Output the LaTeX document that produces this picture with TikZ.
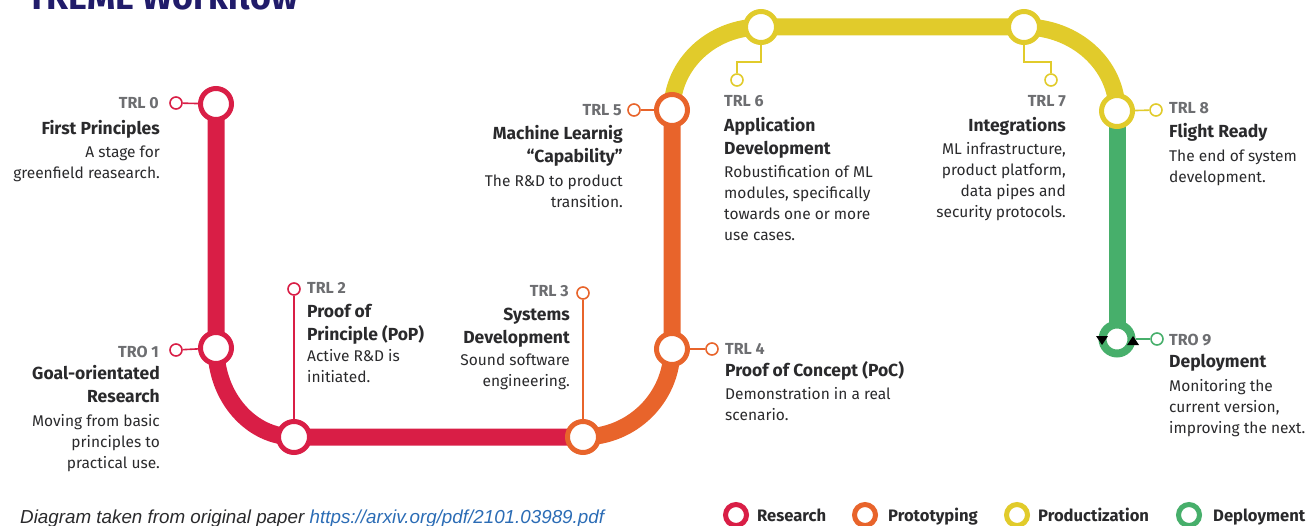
\documentclass[tikz,border=0pt]{standalone}
\usepackage{fontspec}
\setmainfont{Fira Sans}
\newfontfamily\capfont{Liberation Sans}
\usetikzlibrary{calc,backgrounds}
\definecolor{cRed}{HTML}{D91E46}
\definecolor{cOrange}{HTML}{E8642B}
\definecolor{cYellow}{HTML}{E1CB2B}
\definecolor{cGreen}{HTML}{47AF6B}
\definecolor{cGray}{HTML}{6D6E71}
\definecolor{cText}{HTML}{2A2A2C}
\definecolor{cNavy}{HTML}{211C6A}
\definecolor{cLink}{HTML}{2B6CB5}
\begin{document}
\begin{tikzpicture}[x=1pt,y=-1pt,
 track/.style={line width=17pt,draw=#1},
 station/.style={circle,fill=white,draw=#1,line width=5pt,minimum size=31pt,inner sep=0pt},
 pin/.style={circle,fill=white,draw=#1,line width=1.6pt,minimum size=12pt,inner sep=0pt},
 leader/.style={line width=1.6pt,draw=#1},
 tag/.style={font=\fontsize{16}{18}\selectfont\bfseries,text=cGray,inner sep=0pt},
 head/.style={font=\fontsize{17.5}{23}\selectfont\bfseries,text=cText,inner sep=0pt},
 body/.style={font=\fontsize{15.5}{21}\selectfont,text=cText,inner sep=0pt},
 legc/.style={circle,fill=white,draw=#1,line width=5pt,minimum size=21pt,inner sep=0pt},
 legt/.style={font=\fontsize{16.6}{18}\selectfont\bfseries,text=cText,inner sep=0pt,anchor=base west},
]
\useasboundingbox (0,0) rectangle (1316,526);

% title (cut by the page top)
\node[anchor=base west,font=\fontsize{35.8}{38}\selectfont\bfseries,text=cNavy,inner sep=0pt] (title) at (27,10) {TREME Workflow};

% stations
\node[station=cRed] (s0) at (216,104) {};
\node[station=cRed] (s1) at (216,348) {};
\node[station=cRed] (s2) at (294,437) {};
\node[station=cOrange] (s3) at (583,437) {};
\node[station=cOrange] (s4) at (672,349) {};
\node[station=cOrange] (s5) at (672,110) {};
\node[station=cYellow] (s6) at (761,27) {};
\node[station=cYellow] (s7) at (1024,27) {};
\node[station=cYellow] (s8) at (1117,111) {};
\node[circle,fill=white,draw=cGreen,line width=8pt,minimum size=29pt,inner sep=0pt] (s9) at (1117,339) {};

% pins
\node[pin=cRed] (p0) at (176,103) {};
\node[pin=cRed] (p1) at (176,350) {};
\node[pin=cRed] (p2) at (294,289) {};
\node[pin=cOrange] (p3) at (583,293) {};
\node[pin=cOrange] (p4) at (712,349) {};
\node[pin=cOrange] (p5) at (634,110) {};
\node[pin=cYellow] (p6) at (737,80) {};
\node[pin=cYellow] (p7) at (1051,80) {};
\node[pin=cYellow] (p8) at (1156,110) {};
\node[pin=cGreen] (p9) at (1157,339) {};

\begin{scope}[on background layer]
 \draw[track=cRed] (s0.center) -- (s1.center)
   .. controls ($(s1.center)!0.552!(s1.center|-s2.center)$) and ($(s2.center)!0.552!(s1.center|-s2.center)$) .. (s2.center)
   -- (s3.center);
 \draw[track=cOrange] (s3.center)
   .. controls ($(s3.center)!0.552!(s4.center|-s3.center)$) and ($(s4.center)!0.552!(s4.center|-s3.center)$) .. (s4.center)
   -- (s5.center);
 \draw[track=cYellow] (s5.center)
   .. controls ($(s5.center)!0.552!(s5.center|-s6.center)$) and ($(s6.center)!0.552!(s5.center|-s6.center)$) .. (s6.center)
   -- (s7.center)
   .. controls ($(s7.center)!0.552!(s8.center|-s7.center)$) and ($(s8.center)!0.552!(s8.center|-s7.center)$) .. (s8.center);
 \draw[track=cGreen] (s8.center) -- (s9.center);
 \draw[leader=cRed] (p0) -- (s0);
 \draw[leader=cRed] (p1) -- (s1);
 \draw[leader=cRed] (p2) -- (s2);
 \draw[leader=cOrange] (p3) -- (s3);
 \draw[leader=cOrange] (p4) -- (s4);
 \draw[leader=cOrange] (p5) -- (s5);
 \draw[leader=cYellow] (s6.center) |- ($(p6.center)+(0,-18)$) -- (p6);
 \draw[leader=cYellow] (s7.center) |- ($(p7.center)+(0,-18)$) -- (p7);
 \draw[leader=cYellow] (p8) -- (s8);
 \draw[leader=cGreen] (p9) -- (s9);
\end{scope}

% loop arrows
\fill[black] (1096,336) -- (1108,336) -- (1102,345) -- cycle;
\fill[black] (1127,345) -- (1139,345) -- (1133,336) -- cycle;

% TRL 0
\node[tag,anchor=base east] (t0) at (159,109) {TRL 0};
\node[head,anchor=north east,align=right] (h0) at (160,117.9) {\strut First Principles};
\node[body,anchor=north east,align=right] (b0) at (160,142.3) {\strut A stage for\\greenfield reasearch.};
% TRO 1
\node[tag,anchor=base east] (t1) at (159,357) {TRO 1};
\node[head,anchor=north east,align=right] (h1) at (160,362.9) {\strut Goal-orientated\\Research};
\node[body,anchor=north east,align=right] (b1) at (160,411.3) {\strut Moving from basic\\principles to\\practical use.};
% TRL 2
\node[tag,anchor=base west] (t2) at (307,294) {TRL 2};
\node[head,anchor=north west,align=left] (h2) at (307,300.9) {\strut Proof of\\Principle (PoP)};
\node[body,anchor=north west,align=left] (b2) at (307,346.3) {\strut Active R\&D is\\initiated.};
% TRL 3
\node[tag,anchor=base east] (t3) at (569,297) {TRL 3};
\node[head,anchor=north east,align=right] (h3) at (570,303.9) {\strut Systems\\Development};
\node[body,anchor=north east,align=right] (b3) at (570,350.3) {\strut Sound software\\engineering.};
% TRL 4
\node[tag,anchor=base west] (t4) at (725,354) {TRL 4};
\node[head,anchor=north west,align=left] (h4) at (725,359.9) {\strut Proof of Concept (PoC)};
\node[body,anchor=north west,align=left] (b4) at (725,384.3) {\strut Demonstration in a real\\scenario.};
% TRL 5
\node[tag,anchor=base east] (t5) at (622,116) {TRL 5};
\node[head,anchor=north east,align=right] (h5) at (623,122.9) {\strut Machine Learnig\\“Capability”};
\node[body,anchor=north east,align=right] (b5) at (623,171.3) {\strut The R\&D to product\\transition.};
% TRL 6
\node[tag,anchor=base west] (t6) at (724,107) {TRL 6};
\node[head,anchor=north west,align=left] (h6) at (724,114.9) {\strut Application\\Development};
\node[body,anchor=north west,align=left] (b6) at (724,162.3) {\strut Robustification of ML\\modules, specifically\\towards one or more\\use cases.};
% TRL 7
\node[tag,anchor=base east] (t7) at (1066,107) {TRL 7};
\node[head,anchor=north east,align=right] (h7) at (1066,114.9) {\strut Integrations};
\node[body,anchor=north east,align=right] (b7) at (1066,139.3) {\strut ML infrastructure,\\product platform,\\data pipes and\\security protocols.};
% TRL 8
\node[tag,anchor=base west] (t8) at (1169,114) {TRL 8};
\node[head,anchor=north west,align=left] (h8) at (1169,120.9) {\strut Flight Ready};
\node[body,anchor=north west,align=left] (b8) at (1169,146.3) {\strut The end of system\\development.};
% TRO 9
\node[tag,anchor=base west] (t9) at (1169,345) {TRO 9};
\node[head,anchor=north west,align=left] (h9) at (1169,350.9) {\strut Deployment};
\node[body,anchor=north west,align=left] (b9) at (1169,376.3) {\strut Monitoring the\\current version,\\improving the next.};

% caption
\node[anchor=base west,font=\capfont\itshape\fontsize{18.8}{20}\selectfont,text=cText,inner sep=0pt] (cap) at (20,523) {Diagram taken from original paper \textcolor{cLink}{https://arxiv.org/pdf/2101.03989.pdf}};

% legend
\node[legc=cRed] (l1) at (736,515) {};
\node[legt] (lt1) at (757,521) {Research};
\node[legc=cOrange] (l2) at (865,515) {};
\node[legt] (lt2) at (888,521) {Prototyping};
\node[legc=cYellow] (l3) at (1017,515) {};
\node[legt] (lt3) at (1038,521) {Productization};
\node[legc=cGreen] (l4) at (1189,515) {};
\node[legt] (lt4) at (1213,521) {Deployment};
\end{tikzpicture}
\end{document}
